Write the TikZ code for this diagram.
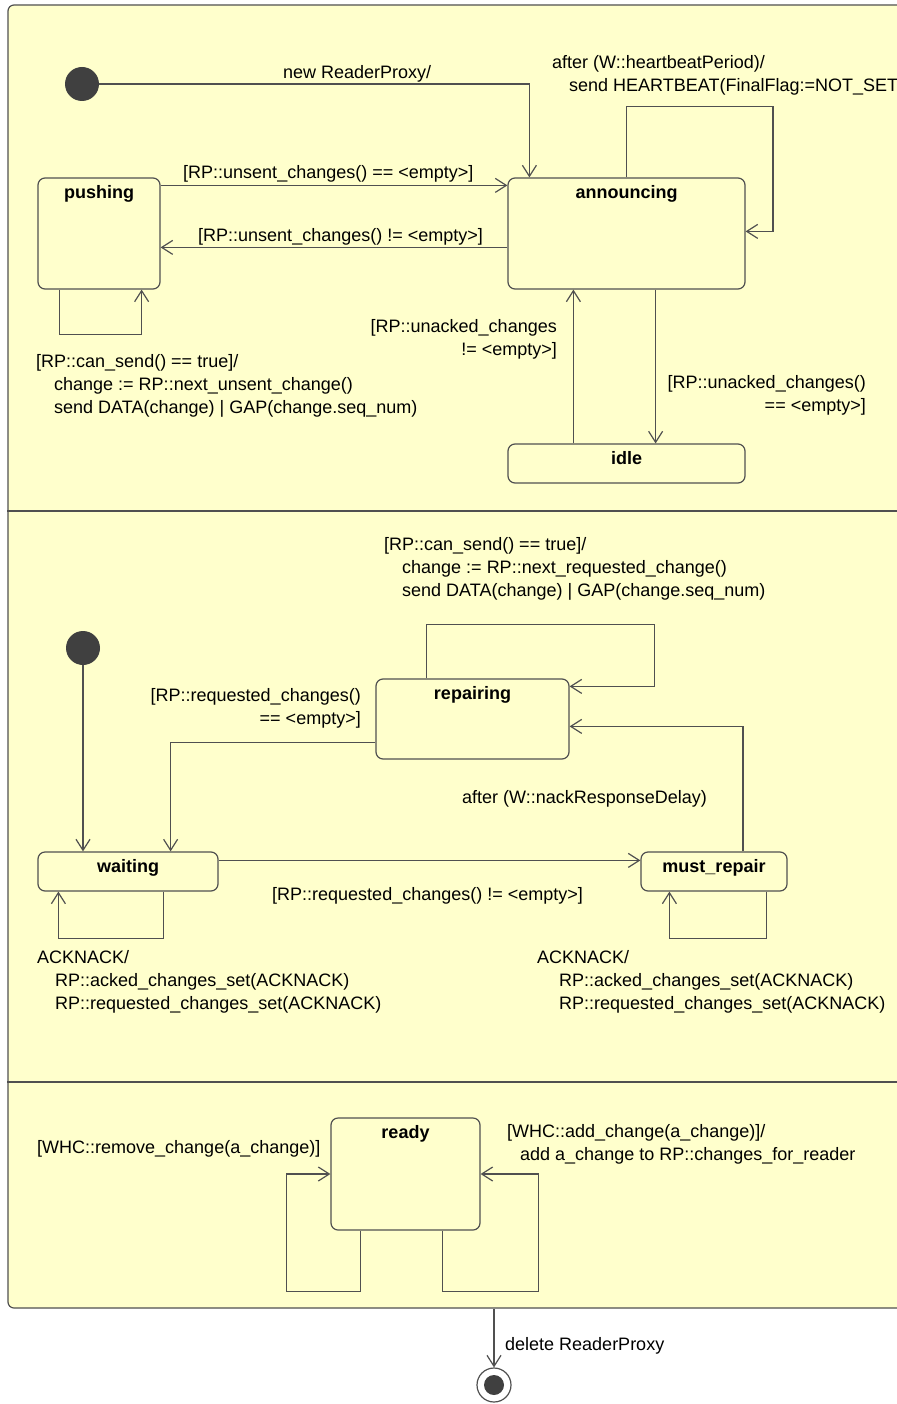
\documentclass[tikz,border=0pt]{standalone}
\usepackage{xcolor}
\usepackage{fontspec}
\setmainfont{Liberation Sans}
\usepackage{tikz}
\usetikzlibrary{
  positioning,
  arrows.meta
}
\definecolor{umlfill}{HTML}{FFFFCC}
\definecolor{umlline}{HTML}{505050}
\definecolor{umldot}{HTML}{404040}

\begin{document}
\begin{tikzpicture}[
  x=1pt, y=-1pt,
  font=\fontsize{18}{23}\selectfont,
  state/.style={draw=umlline, line width=1.2pt, fill=umlfill, rounded corners=7pt, inner sep=0pt},
  slabel/.style={anchor=north, yshift=-5pt, font=\fontsize{18}{23}\selectfont\bfseries},
  initial/.style={circle, fill=umldot, minimum size=34pt, inner sep=0pt},
  final/.style={circle, draw=umlline, line width=1.2pt, fill=white, minimum size=34pt, inner sep=0pt,
    path picture={\fill[umldot] (path picture bounding box.center) circle (10pt);}},
  trans/.style={draw=umlline, line width=1.2pt, -{Straight Barb[length=11pt,width=14pt]}},
  sepline/.style={draw=umlline, line width=1.2pt},
  tlabel/.style={inner sep=0pt, anchor=base west, align=left},
  rlabel/.style={inner sep=0pt, anchor=base east, align=right},
]
\useasboundingbox (0,0) rectangle (896,1404);

% Marco exterior
\node[state, rounded corners=6pt, minimum width=972pt, minimum height=1303pt] (frame) at (494,656.5) {};
\draw[sepline] (frame.west |- 0,511) -- (frame.east |- 0,511);
\draw[sepline] (frame.west |- 0,1082) -- (frame.east |- 0,1082);

% Region superior
\node[initial] (init1) at (82,84) {};
\node[state, minimum width=122pt, minimum height=111pt, label={[slabel]north:pushing}] (pushing) at (99,233.5) {};
\node[state, minimum width=237pt, minimum height=111pt, label={[slabel]north:announcing}] (announcing) at (626.5,233.5) {};
\node[state, minimum width=237pt, minimum height=39pt, label={[slabel]north:idle}] (idle) at (626.5,463.5) {};

\draw[trans] (init1) -| ([xshift=22pt]announcing.north west);
\draw[trans] ([yshift=-8pt]pushing.north east) -- ([yshift=-8pt]announcing.north west);
\draw[trans] ([yshift=-70pt]announcing.north west) -- ([yshift=-70pt]pushing.north east);
\draw[trans] (announcing.north) |- ++(146.5,-71) |- ([yshift=-54pt]announcing.north east);
\draw[trans] ([xshift=22pt]pushing.south west) -- ++(0,45) -| ([xshift=-19pt]pushing.south east);
\draw[trans] ([xshift=66pt]idle.north west) -- ([xshift=66pt]announcing.south west);
\draw[trans] ([xshift=-90pt]announcing.south east) -- ([xshift=-90pt]idle.north east);

% (base = linea base de la ultima linea)
\node[tlabel] (lnew) at (283,79) {new ReaderProxy/};
\node[tlabel] (lpa) at (183,179) {[RP::unsent\_changes() == <empty>]};
\node[tlabel] (lap) at (198,242) {[RP::unsent\_changes() != <empty>]};
\node[tlabel] (lhb) at (552,92) {after (W::heartbeatPeriod)/\\\hspace*{17pt}send HEARTBEAT(FinalFlag:=NOT\_SET)};
\node[tlabel] (lps) at (36,413) {[RP::can\_send() == true]/\\\hspace*{18pt}change := RP::next\_unsent\_change()\\\hspace*{18pt}send DATA(change) | GAP(change.seq\_num)};
\node[rlabel] (lia) at (557,355) {[RP::unacked\_changes\\!= <empty>]};
\node[rlabel] (lai) at (866,411) {[RP::unacked\_changes()\\== <empty>]};

% Region central
\node[initial] (init2) at (83,648) {};
\node[state, minimum width=193pt, minimum height=80pt, label={[slabel]north:repairing}] (repairing) at (472.5,719) {};
\node[state, minimum width=180pt, minimum height=39pt, label={[slabel]north:waiting}] (waiting) at (128,871.5) {};
\node[state, minimum width=146pt, minimum height=39pt, label={[slabel]north:must\_repair}] (must_repair) at (714,871.5) {};

\draw[trans] (init2) -- (init2 |- waiting.north);
\draw[trans] ([yshift=17pt]repairing.south west) -| ([xshift=-48pt]waiting.north east);
\draw[trans] ([xshift=51pt]repairing.north west) |- ++(228,-54) |- ([yshift=-8pt]repairing.north east);
\draw[trans] ([xshift=29pt]must_repair.north) |- ([yshift=-48pt]repairing.north east);
\draw[trans] ([yshift=-9pt]waiting.north east) -- ([yshift=-9pt]must_repair.north west);
\draw[trans] ([xshift=-55pt]waiting.south east) -- ++(0,47) -| ([xshift=21pt]waiting.south west);
\draw[trans] ([xshift=-21pt]must_repair.south east) -- ++(0,47) -| ([xshift=29pt]must_repair.south west);

\node[tlabel] (lrs) at (384,596) {[RP::can\_send() == true]/\\\hspace*{18pt}change := RP::next\_requested\_change()\\\hspace*{18pt}send DATA(change) | GAP(change.seq\_num)};
\node[rlabel] (lrw) at (361,724) {[RP::requested\_changes()\\== <empty>]};
\node[tlabel] (lmr) at (462,803) {after (W::nackResponseDelay)};
\node[tlabel] (lwm) at (272,900) {[RP::requested\_changes() != <empty>]};
\node[tlabel] (lwa) at (37,1009) {ACKNACK/\\\hspace*{18pt}RP::acked\_changes\_set(ACKNACK)\\\hspace*{18pt}RP::requested\_changes\_set(ACKNACK)};
\node[tlabel] (lma) at (537,1009) {ACKNACK/\\\hspace*{22pt}RP::acked\_changes\_set(ACKNACK)\\\hspace*{22pt}RP::requested\_changes\_set(ACKNACK)};

% Region inferior
\node[state, minimum width=149pt, minimum height=112pt, label={[slabel]north:ready}] (ready) at (405.5,1174) {};
\draw[trans] ([xshift=30pt]ready.south west) -- ++(0,61) -- ++(-74,0) |- (ready.west);
\draw[trans] ([xshift=-38pt]ready.south east) -- ++(0,61) -- ++(96,0) |- (ready.east);

\node[tlabel] (lrm) at (37,1153) {[WHC::remove\_change(a\_change)]};
\node[tlabel] (lra) at (507,1160) {[WHC::add\_change(a\_change)]/\\\hspace*{13pt}add a\_change to RP::changes\_for\_reader};

% Estado final
\node[final] (final) at (494,1385) {};
\draw[trans] (frame.south) -- (final);
\node[tlabel] (ldel) at (505,1350) {delete ReaderProxy};

\end{tikzpicture}
\end{document}
